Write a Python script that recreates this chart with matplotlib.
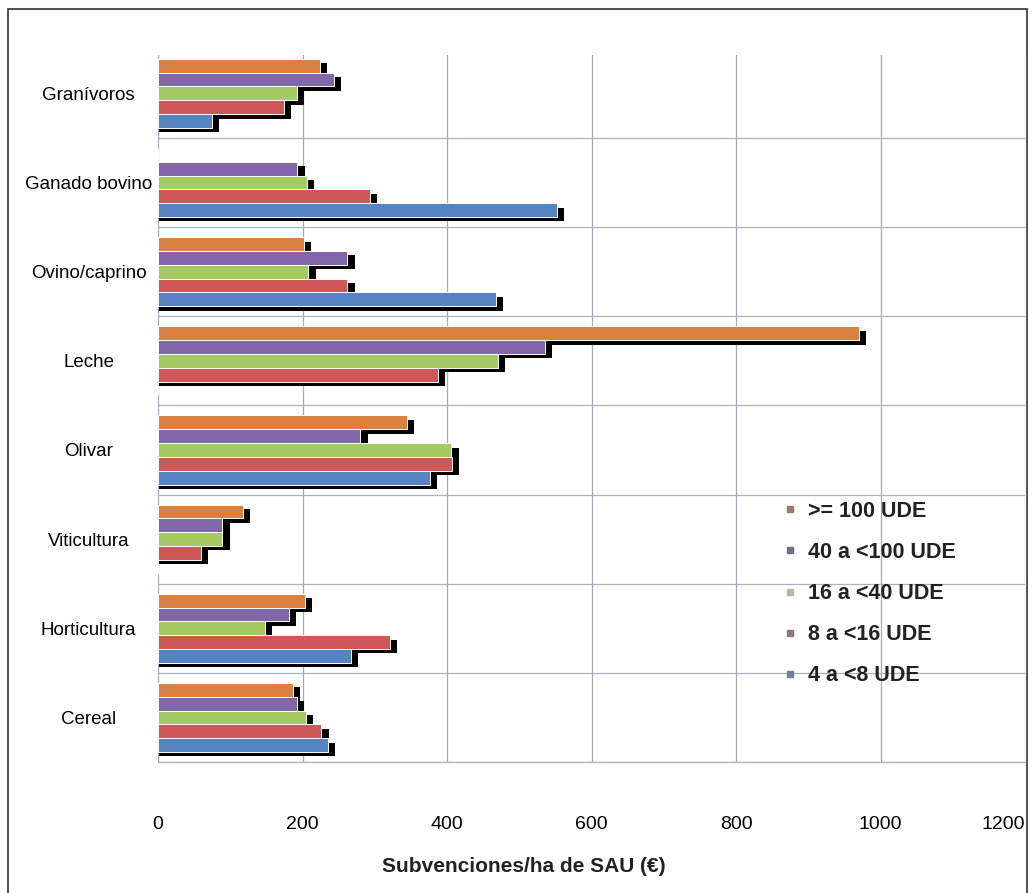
"""Subvenciones por ha de SAU segun OTE y dimension economica."""

from matplotlib import pyplot, font_manager
from matplotlib.lines import Line2D
from matplotlib.patches import Rectangle
import numpy

# Categories from bottom (Cereal) to top (Granivoros).
categories = ['Cereal', 'Horticultura', 'Viticultura', 'Olivar', 'Leche',
              'Ovino/caprino', 'Ganado bovino', 'Granívoros']
series = ['>= 100 UDE', '40 a <100 UDE', '16 a <40 UDE', '8 a <16 UDE',
          '4 a <8 UDE']
ude_100 = [187, 203, 118, 344, 970, 202, 0, 224]
ude_40 = [192, 181, 89, 280, 535, 262, 193, 243]
ude_16 = [205, 148, 89, 406, 470, 208, 206, 192]
ude_8 = [226, 321, 59, 407, 387, 262, 293, 174]
ude_4 = [235, 267, 0, 376, 0, 468, 552, 75]
xticks = [0, 200, 400, 600, 800, 1000, 1200]

values = [ude_100, ude_40, ude_16, ude_8, ude_4]
colors = ['#DC8040', '#8067AA', '#A3CB62', '#CE5757', '#5684C3']
legend_colors = ['#9C7A68', '#6F6F84', '#B4B9AE', '#93767A', '#737A9A']


def pick_family(*names):
    """Return the first installed font family of the list."""
    for name in names:
        try:
            font_manager.findfont(name, fallback_to_default=False)
            return name
        except ValueError:
            continue
    return 'DejaVu Sans'


regular = pick_family('Liberation Sans', 'Arial')
pyplot.rcParams['font.family'] = regular

fig = pyplot.figure(figsize=(10.35, 8.93), dpi=100)
ax = fig.add_axes([158 / 1035, 1 - 762 / 893, 867 / 1035, 707 / 893])

y = numpy.arange(len(categories))
height = 0.155
offsets = [2 * height, height, 0.0, -height, -2 * height]

# Black drop shadows first, then the coloured bars on top.
for vals, off in zip(values, offsets):
    vals = numpy.array(vals, dtype=float)
    mask = vals > 0
    ax.barh(y[mask] + off - 0.05, vals[mask] + 8, left=2, height=height,
            color='black', zorder=2)
for vals, off, color in zip(values, offsets, colors):
    ax.barh(y + off, vals, height=height, color=color, edgecolor='white',
            linewidth=0.7, zorder=3)

ax.set_xticks(xticks)
ax.set_xticklabels([str(t) for t in xticks], fontsize=14)
labels = ax.get_xticklabels()
labels[-1].set_horizontalalignment('right')
labels[-1].set_x(1203)
ax.set_yticks(y)
ax.set_yticklabels(categories, fontsize=13.5, ha='center')
ax.set_yticks(numpy.arange(-0.5, len(categories), 1.0), minor=True)
ax.tick_params(axis='y', which='both', length=0, pad=50)
ax.tick_params(axis='x', length=0, pad=39)
ax.set_xlim(0, 1200)
ax.set_ylim(-0.5, 7.43)

ax.grid(axis='x', color='#A3A9B6', linewidth=0.9, zorder=0)
ax.grid(axis='y', which='minor', color='#A9B2C4', linewidth=0.9, zorder=0)
ax.set_axisbelow(True)
for side in ['top', 'right', 'left']:
    ax.spines[side].set_visible(False)
ax.spines['bottom'].set_color('#A9B2C4')
ax.spines['bottom'].set_linewidth(0.9)

fig.text(524 / 1035, 1 - 866 / 893, 'Subvenciones/ha de SAU (€)',
         fontsize=15, fontweight='bold', ha='center', va='center',
         color='#222222')

handles = [Line2D([], [], linestyle='none', marker='s', markersize=5,
                  markerfacecolor=c, markeredgecolor=c)
           for c in legend_colors]
leg = ax.legend(handles, series, loc='upper left',
                bbox_to_anchor=(784 / 1035, 1 - 501 / 893),
                bbox_transform=fig.transFigure, frameon=False,
                handlelength=0.6, handletextpad=0.5, labelspacing=0.93,
                borderpad=0, borderaxespad=0,
                prop={'family': regular, 'weight': 'bold', 'size': 15.5})
for text in leg.get_texts():
    text.set_color('#222222')

# Frame around the whole picture.
fig.patches.append(Rectangle((8 / 1035, -0.05), 1019 / 1035, 1.05 - 9 / 893,
                             transform=fig.transFigure, fill=False,
                             edgecolor='#333333', linewidth=1.2))

fig.savefig('out.png', dpi=100)
